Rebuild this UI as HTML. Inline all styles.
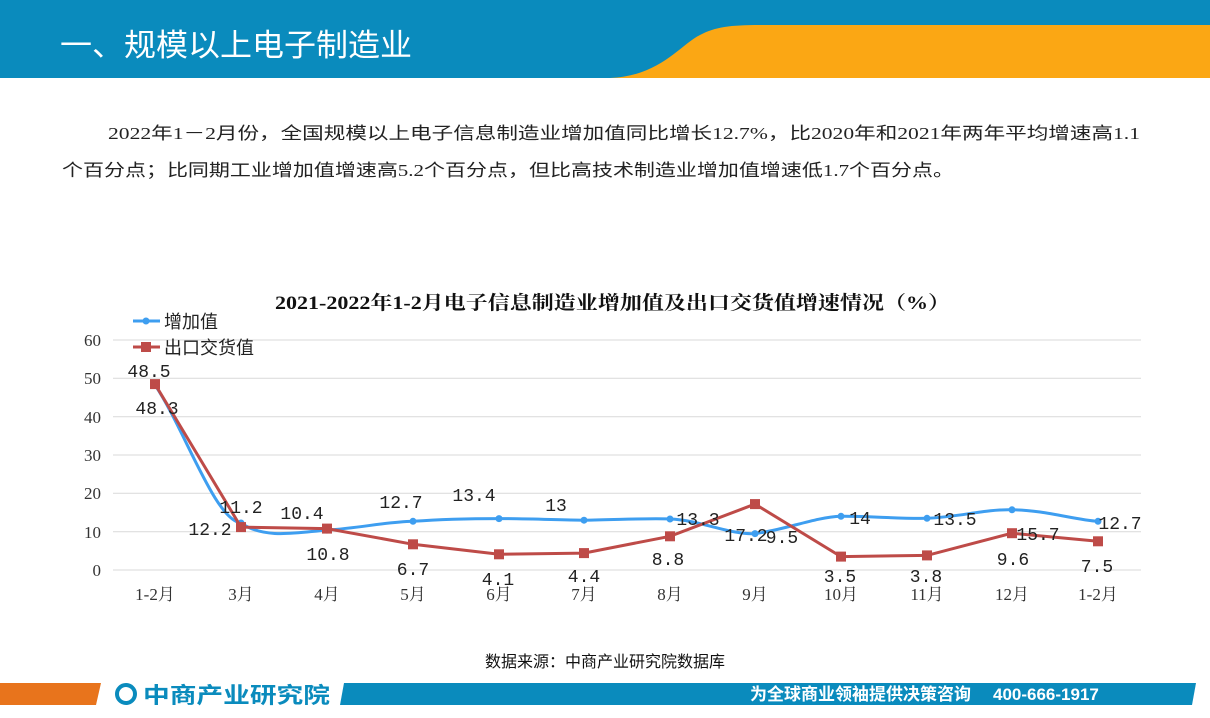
<!DOCTYPE html>
<html><head><meta charset="utf-8"><style>
body{margin:0;width:1210px;height:718px;background:#fff;overflow:hidden;font-family:"Liberation Sans","Noto Sans CJK SC",sans-serif;}
</style></head><body>
<svg width="1210" height="718" xmlns="http://www.w3.org/2000/svg" style="position:absolute;left:0;top:0">
<rect x="0" y="0" width="1210" height="78" fill="#0a8bbd"/>
<path d="M610 78 C660 76 680 45 700 35 C715 27 730 25 760 25 L1210 25 L1210 78 Z" fill="#fba714"/>
<text x="60" y="56" font-size="31" fill="#fff" font-family="Noto Sans CJK SC,sans-serif" textLength="352" lengthAdjust="spacingAndGlyphs">一、规模以上电子制造业</text>
<g font-family="Liberation Serif,Noto Sans CJK SC,sans-serif" font-size="17" fill="#222">
<text x="108" y="139" textLength="1032" lengthAdjust="spacingAndGlyphs">2022年1－2月份，全国规模以上电子信息制造业增加值同比增长12.7%，比2020年和2021年两年平均增速高1.1</text>
<text x="62" y="176" textLength="892" lengthAdjust="spacingAndGlyphs">个百分点；比同期工业增加值增速高5.2个百分点，但比高技术制造业增加值增速低1.7个百分点。</text>
</g>
<text x="275" y="309" font-size="19" font-weight="bold" fill="#111" font-family="Liberation Serif,Noto Serif CJK SC,serif" textLength="675" lengthAdjust="spacingAndGlyphs">2021-2022年1-2月电子信息制造业增加值及出口交货值增速情况（%）</text>
<g stroke="#d9d9d9" stroke-width="1">
<line x1="113" y1="340" x2="1141" y2="340"/><line x1="113" y1="378.3" x2="1141" y2="378.3"/><line x1="113" y1="416.7" x2="1141" y2="416.7"/><line x1="113" y1="455" x2="1141" y2="455"/><line x1="113" y1="493.3" x2="1141" y2="493.3"/><line x1="113" y1="531.7" x2="1141" y2="531.7"/><line x1="113" y1="570" x2="1141" y2="570"/>
</g>
<g font-size="17" fill="#333" text-anchor="end" font-family="Liberation Serif,serif">
<text x="101" y="346">60</text><text x="101" y="384">50</text><text x="101" y="423">40</text><text x="101" y="461">30</text><text x="101" y="499">20</text><text x="101" y="538">10</text><text x="101" y="576">0</text>
</g>
<g font-size="17" fill="#333" text-anchor="middle" font-family="Liberation Serif,Noto Serif CJK SC,serif">
<text x="155" y="600">1-2月</text><text x="241" y="600">3月</text><text x="327" y="600">4月</text><text x="413" y="600">5月</text><text x="499" y="600">6月</text><text x="584" y="600">7月</text><text x="670" y="600">8月</text><text x="755" y="600">9月</text><text x="841" y="600">10月</text><text x="927" y="600">11月</text><text x="1012" y="600">12月</text><text x="1098" y="600">1-2月</text>
</g>
<path d="M155 384.9 C185 430 215 520 241 523 C265 540 300 532 327 530.1 C360 528 385 522 413 521.3 C445 519 470 518.6 499 518.6 C530 518.6 560 520 584 520.2 C615 520 645 518 670 519 C700 520 730 535 755 533.6 C785 530 815 517 841 516.3 C870 516 900 519 927 518.3 C960 517 985 509 1012 509.8 C1045 510 1075 520 1098 521.3" fill="none" stroke="#3e9ef0" stroke-width="3"/>
<g fill="#3e9ef0">
<circle cx="155" cy="384.9" r="3.5"/><circle cx="241" cy="523" r="3.5"/><circle cx="327" cy="530.1" r="3.5"/><circle cx="413" cy="521.3" r="3.5"/><circle cx="499" cy="518.6" r="3.5"/><circle cx="584" cy="520.2" r="3.5"/><circle cx="670" cy="519" r="3.5"/><circle cx="755" cy="533.6" r="3.5"/><circle cx="841" cy="516.3" r="3.5"/><circle cx="927" cy="518.3" r="3.5"/><circle cx="1012" cy="509.8" r="3.5"/><circle cx="1098" cy="521.3" r="3.5"/>
</g>
<polyline points="155,384.1 241,527.1 327,528.6 413,544.3 499,554.3 584,553.1 670,536.3 755,504.1 841,556.6 927,555.4 1012,533.2 1098,541.3" fill="none" stroke="#be4b48" stroke-width="3"/>
<g fill="#be4b48">
<rect x="150" y="379.1" width="10" height="10"/><rect x="236" y="522.1" width="10" height="10"/><rect x="322" y="523.6" width="10" height="10"/><rect x="408" y="539.3" width="10" height="10"/><rect x="494" y="549.3" width="10" height="10"/><rect x="579" y="548.1" width="10" height="10"/><rect x="665" y="531.3" width="10" height="10"/><rect x="750" y="499.1" width="10" height="10"/><rect x="836" y="551.6" width="10" height="10"/><rect x="922" y="550.4" width="10" height="10"/><rect x="1007" y="528.2" width="10" height="10"/><rect x="1093" y="536.3" width="10" height="10"/>
</g>
<g font-size="18" fill="#222" text-anchor="middle" font-family="Liberation Mono,monospace">
<text x="149" y="377">48.5</text><text x="157" y="414">48.3</text>
<text x="241" y="513">11.2</text><text x="210" y="535">12.2</text>
<text x="302" y="519">10.4</text><text x="328" y="560">10.8</text>
<text x="401" y="508">12.7</text><text x="413" y="575">6.7</text>
<text x="474" y="501">13.4</text><text x="498" y="585">4.1</text>
<text x="556" y="511">13</text><text x="584" y="582">4.4</text>
<text x="698" y="525">13.3</text><text x="668" y="565">8.8</text>
<text x="746" y="541">17.2</text><text x="782" y="543">9.5</text>
<text x="860" y="524">14</text><text x="840" y="582">3.5</text>
<text x="955" y="525">13.5</text><text x="926" y="582">3.8</text>
<text x="1038" y="540">15.7</text><text x="1013" y="565">9.6</text>
<text x="1120" y="529">12.7</text><text x="1097" y="572">7.5</text>
</g>
<line x1="133" y1="321" x2="160" y2="321" stroke="#3e9ef0" stroke-width="3"/><circle cx="146" cy="321" r="3.5" fill="#3e9ef0"/>
<text x="164" y="328" font-size="18" fill="#222" font-family="Noto Sans CJK SC,sans-serif">增加值</text>
<line x1="133" y1="347" x2="160" y2="347" stroke="#be4b48" stroke-width="3"/><rect x="141" y="342" width="10" height="10" fill="#be4b48"/>
<text x="164" y="354" font-size="18" fill="#222" font-family="Noto Sans CJK SC,sans-serif">出口交货值</text>
<text x="605" y="667" text-anchor="middle" font-size="16" fill="#111" font-family="Noto Sans CJK SC,sans-serif">数据来源：中商产业研究院数据库</text>
<polygon points="0,683 101,683 96,705 0,705" fill="#e8741c"/>
<polygon points="344,683 1196,683 1192,705 340,705" fill="#0a8bbd"/>
<circle cx="126" cy="694" r="9" fill="none" stroke="#0a8bbd" stroke-width="4"/>
<text x="143" y="703" font-size="22" fill="#0a8bbd" font-weight="bold" font-family="Noto Sans CJK SC,sans-serif" textLength="187" lengthAdjust="spacingAndGlyphs">中商产业研究院</text>
<text x="750" y="700" font-size="17" fill="#fff" font-weight="bold" font-family="Noto Sans CJK SC,sans-serif">为全球商业领袖提供决策咨询</text>
<text x="993" y="700" font-size="17" fill="#fff" font-weight="bold">400-666-1917</text>
</svg>
</body></html>
